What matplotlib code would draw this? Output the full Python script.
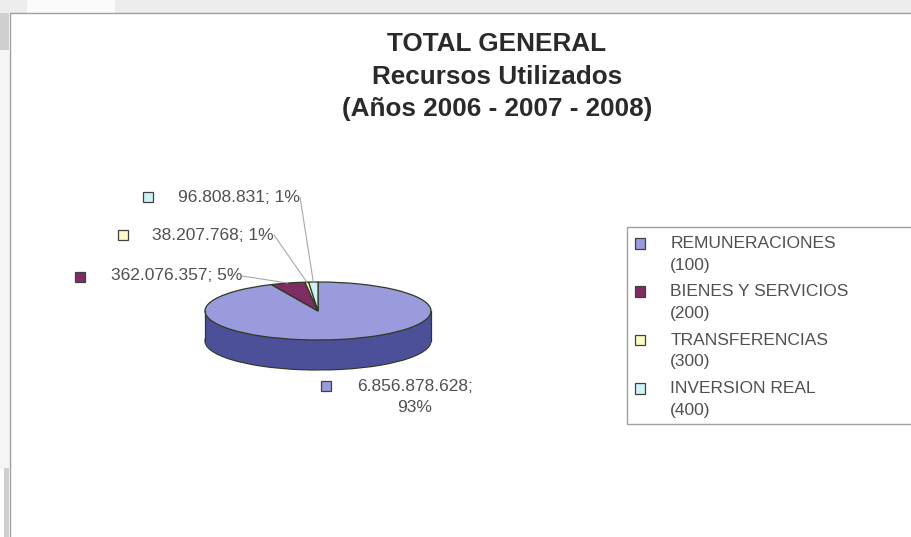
import numpy as np
import matplotlib
matplotlib.use("Agg")
import matplotlib.pyplot as plt
from matplotlib.patches import Rectangle, Patch
from matplotlib.legend_handler import HandlerPatch

categories = ["REMUNERACIONES\n(100)", "BIENES Y SERVICIOS\n(200)", "TRANSFERENCIAS\n(300)", "INVERSION REAL\n(400)"]
values = [6856878628, 362076357, 38207768, 96808831]
value_labels = ["6.856.878.628;\n93%", "362.076.357; 5%", "38.207.768; 1%", "96.808.831; 1%"]
colors = ["#9A9BDC", "#7F2C62", "#FBFBC8", "#CFF2F5"]
side_color = "#4B5098"
title_lines = ["TOTAL GENERAL", "Recursos Utilizados", "(Años 2006 - 2007 - 2008)"]

W, H = 912, 537
TEXT = "#505050"
plt.rcParams["font.family"] = ["Liberation Sans", "DejaVu Sans"]
fig = plt.figure(figsize=(W / 100, H / 100), dpi=100, facecolor="white")

# overlay in pixel coordinates for chart chrome
bg = fig.add_axes([0, 0, 1, 1], zorder=0)
bg.set_xlim(0, W); bg.set_ylim(H, 0); bg.axis("off")
bg.add_patch(Rectangle((0, 0), W, 13, fc="#EDEDED", ec="none"))
bg.add_patch(Rectangle((27, 0), 88, 13, fc="#FBFBFB", ec="none"))
bg.add_patch(Rectangle((0, 13), 9, 37, fc="#CFCFCF", ec="none"))
bg.add_patch(Rectangle((0, 50), 9, 420, fc="#F5F5F5", ec="none"))
bg.add_patch(Rectangle((4, 468), 5, 69, fc="#CFCFCF", ec="none"))
bg.add_patch(Rectangle((10, 13), W + 20, H + 20, fc="white", ec="#A0A0A0", lw=1.0))

# title
for line, y in zip(title_lines, [44, 77, 109]):
    bg.text(497, y, line, ha="center", va="center", fontsize=18.8, fontweight="bold", color="#2A2A2A")

# pie
left, right, top, bottom = 205, 431, 282, 370
rim_h = 29.0
depth = (bottom - top) / rim_h - 2
ax = fig.add_axes([left / W, 1 - bottom / H, (right - left) / W, (bottom - top) / H], zorder=1)
EDGE = "#2E3A22"
for d in np.linspace(depth, 0.02, 40):
    ax.pie(values, startangle=90, counterclock=False, center=(0, -d), radius=1,
           colors=[side_color] * 4,
           wedgeprops=dict(lw=0.9 if d == depth else 0, edgecolor=EDGE), frame=False)
wedges, _ = ax.pie(values, startangle=90, counterclock=False, center=(0, 0), radius=1,
                   colors=colors, wedgeprops=dict(lw=0.9, edgecolor=EDGE), frame=False)
for x in (-1, 1):
    ax.plot([x, x], [0, -depth], color=EDGE, lw=0.9, clip_on=False, zorder=20)
ax.set_aspect("auto")
ax.set_xlim(-1, 1)
ax.set_ylim(-1 - depth, 1)
ax.axis("off")

# value labels with leader lines
label_anchor = {1: (242, 276), 2: (274, 235), 3: (300, 197)}
marks = {0: (326, 386), 1: (80, 277), 2: (123, 235), 3: (148, 197)}
fs = 12.5
for i, w in enumerate(wedges):
    mx, my = marks[i]
    bg.add_patch(Rectangle((mx - 5, my - 5), 10, 10, fc=colors[i], ec="#404040", lw=0.9))
    if i == 0:
        bg.text(415, 397, value_labels[i], ha="center", va="center", fontsize=fs,
                color=TEXT, linespacing=1.55)
        continue
    a = np.deg2rad((w.theta1 + w.theta2) / 2)
    px, py = label_anchor[i]
    ax.annotate(value_labels[i], xy=(np.cos(a), np.sin(a)), xycoords="data",
                xytext=(px, H - py), textcoords="figure pixels", ha="right", va="center",
                fontsize=fs, color=TEXT, annotation_clip=False,
                arrowprops=dict(arrowstyle="-", color="#A8A8A8", lw=0.8, shrinkA=0, shrinkB=0,
                                relpos=(1, 0.5), patchA=None))

# legend
def first_line_square(legend, orig_handle, xdescent, ydescent, width, height, fontsize):
    return Rectangle((-xdescent, -ydescent + 0.62 * fontsize), width, height)

bg.add_patch(Rectangle((627, 227), W, 197, fc="white", ec="#A0A0A0", lw=1.0))
handles = [Patch(fc=c, ec="#404040", lw=0.9) for c in colors]
leg = fig.legend(handles, categories, loc="upper left", bbox_to_anchor=(630 / W, 1 - 231 / H),
                 bbox_transform=fig.transFigure, frameon=False, fontsize=fs, labelcolor=TEXT,
                 handlelength=0.58, handleheight=0.58, handletextpad=1.44, labelspacing=0.67,
                 borderpad=0.3, borderaxespad=0,
                 handler_map={Patch: HandlerPatch(patch_func=first_line_square)})
leg.set_zorder(5)
for t in leg.get_texts():
    t.set_linespacing(1.55)

fig.savefig("out.png", dpi=100)
